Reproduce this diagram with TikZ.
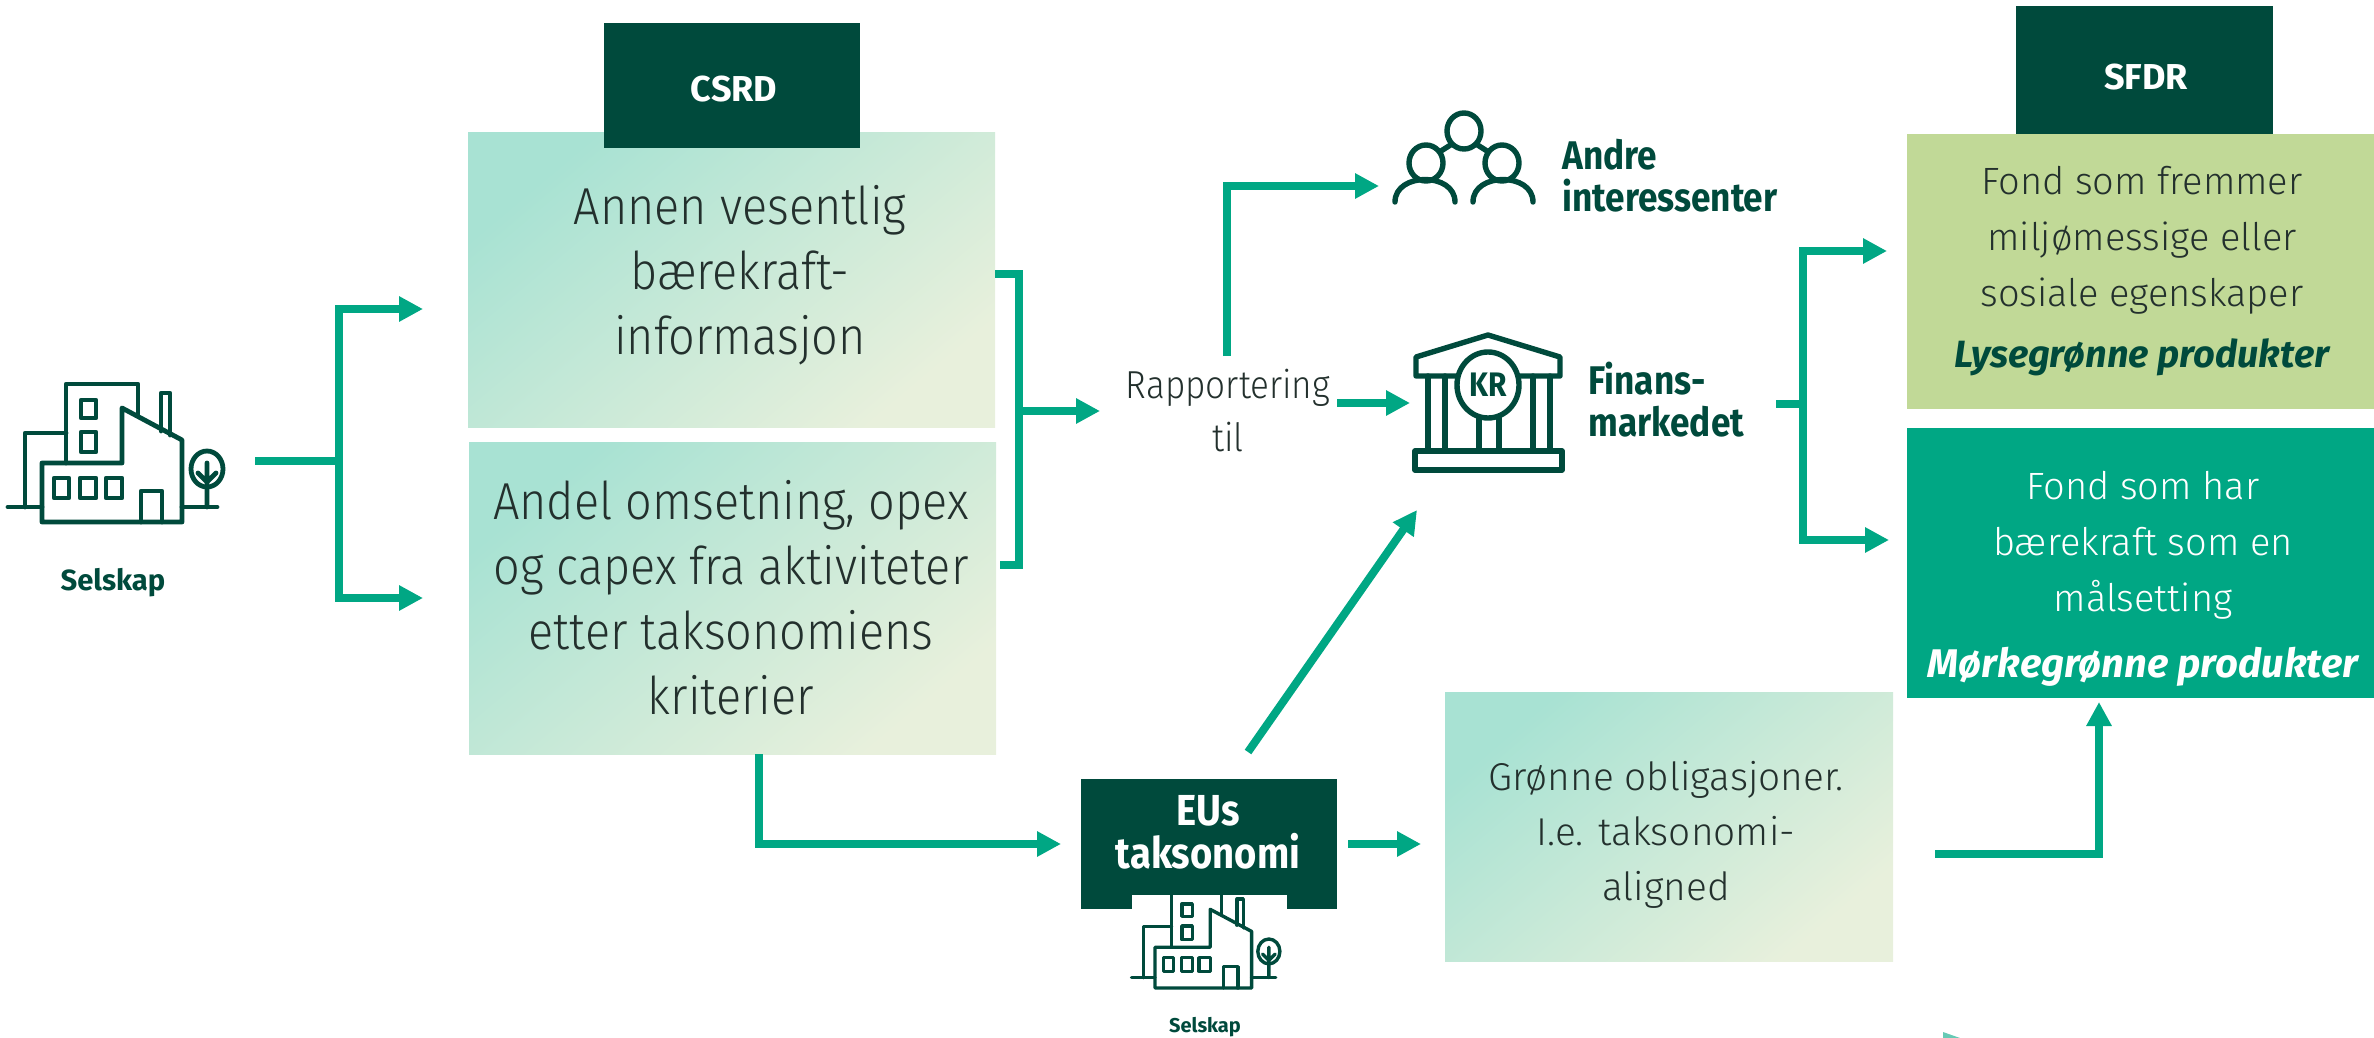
\documentclass[tikz,border=0pt]{standalone}
\usepackage{fontspec}
\setmainfont{Fira Sans}
\newfontfamily\tynn{Fira Sans Light}
\newfontfamily\smaltynn[FakeStretch=0.9]{Fira Sans Light}
\newfontfamily\smal[FakeStretch=0.88]{Fira Sans}
\usetikzlibrary{arrows.meta,calc,shapes.geometric}
\definecolor{mork}{HTML}{004A3C}
\definecolor{midt}{HTML}{00A784}
\definecolor{lys}{HTML}{C1D997}
\definecolor{tekst}{HTML}{23302D}
\definecolor{gradA}{HTML}{A8E2D3}
\definecolor{gradB}{HTML}{E8F0DC}
\tikzset{
>={Triangle[length=12pt,width=12pt]},
pil/.style={->,draw=midt,line width=4pt},
strek/.style={draw=midt,line width=4pt},
fargeboks/.style={inner sep=0pt,outer sep=0pt,left color=gradA,right color=gradB,shading angle=40},
hode/.style={fill=mork,inner sep=0pt,outer sep=0pt,text=white,font=\fontsize{18}{22}\selectfont\bfseries},
brodtekst/.style={align=center,text=tekst,inner sep=0pt,font=\fontsize{26}{32.5}\selectfont\smaltynn},
fondtekst/.style={align=center,inner sep=0pt,font=\fontsize{19}{28}\selectfont\tynn},
merke/.style={align=left,inner sep=0pt,text=mork,font=\fontsize{20}{21}\selectfont\smal\bfseries},
ikon/.style={draw=mork,line width=2.4pt,line join=round,line cap=round},
pics/selskap/.style={code={
\draw (-34,-15) -- (0,-15) (140,-15) -- (175,-15);
\draw (0,0) -- (0,-59) -- (80,-59) -- (80,-114) -- (140,-82) -- (140,0) -- cycle;
\draw (24,-59) -- (24,-138) -- (96,-138) -- (96,-107);
\draw (-17,-15) -- (-17,-89) -- (24,-89);
\draw (119,-91) -- (119,-129) -- (128,-129) -- (128,-87);
\draw (39,-122) rectangle (54,-104) (39,-90) rectangle (54,-70);
\draw (12,-44) rectangle (27,-24) (38,-44) rectangle (54,-24) (64,-44) rectangle (80,-24);
\draw (99,0) -- (99,-31) -- (120,-31) -- (120,0);
\draw (165,-53) ellipse [x radius=8pt,y radius=9pt];
\draw (165,-59) -- (165,-15) (156,-49) -- (165,-40) -- (174,-49);
}}}

\begin{document}
\begin{tikzpicture}[x=0.5pt,y=-0.5pt]
\useasboundingbox (0,0) rectangle (2374,1038);

\node (sfdr) [hode,minimum width=128.5pt,minimum height=64pt] at (2144.5,70) {};
\node (sfdrt) [hode] at (2146,77) {SFDR};

\node (boks1) [fargeboks,minimum width=263.5pt,minimum height=147pt] at (731.5,280) {};
\node (boks2) [fargeboks,minimum width=263.5pt,minimum height=156pt] at (732.5,598) {};
\node (boks3) [fargeboks,minimum width=224pt,minimum height=134.5pt] at (1669,826.5) {};
\node (boks4) [fill=lys,inner sep=0pt,outer sep=0pt,minimum width=233.5pt,minimum height=137.5pt] at (2140.5,271.5) {};
\node (boks5) [fill=midt,inner sep=0pt,outer sep=0pt,minimum width=233.5pt,minimum height=135pt] at (2140.5,563) {};
\node (csrd) [hode,minimum width=128pt,minimum height=62.5pt] at (732,86) {};
\node (csrdt) [hode] at (734,89) {CSRD};
\node (eu) [hode,minimum width=128pt,minimum height=65pt] at (1209,844) {};
\node (eutom) [fill=white,inner sep=0pt,minimum width=77.5pt,minimum height=20pt] at (1209.5,915) {};

\node (boks1t) [brodtekst] at (740,275) {Annen vesentlig\\bærekraft-\\informasjon};
\node (boks2t) [brodtekst] at (731,598) {Andel omsetning, opex\\og capex fra aktiviteter\\etter taksonomiens\\kriterier};
\node (boks3t) [fondtekst,text=tekst,font=\fontsize{19.4}{27.5}\selectfont\tynn] at (1666,835) {Grønne obligasjoner.\\I.e. taksonomi-\\aligned};
\node (boks4t) [fondtekst,text=tekst] at (2142,240) {Fond som fremmer\\miljømessige eller\\sosiale egenskaper};
\node (boks4b) [inner sep=0pt,text=mork,font=\fontsize{19}{22}\selectfont\bfseries\itshape] at (2142,357) {Lysegrønne produkter};
\node (boks5t) [fondtekst,text=white] at (2143,545) {Fond som har\\bærekraft som en\\målsetting};
\node (boks5b) [inner sep=0pt,text=white,font=\fontsize{20}{22}\selectfont\bfseries\itshape] at (2143,667) {Mørkegrønne produkter};
\node (eut) [align=center,inner sep=0pt,text=white,font=\fontsize{21.7}{21.5}\selectfont\smal\bfseries] at (1208,832) {EUs\\taksonomi};
\node (rapp) [brodtekst,font=\fontsize{19.5}{26.5}\selectfont\smaltynn] at (1228,411) {Rapportering\\til};
\node (andre) [merke,anchor=west] at (1562,176) {Andre\\interessenter};
\node (finans) [merke,anchor=west] at (1588,400) {Finans-\\markedet};
\node (sel1) [inner sep=0pt,text=mork,font=\fontsize{14.6}{16}\selectfont\bfseries] at (113,583) {Selskap};
\node (sel2) [inner sep=0pt,text=mork,font=\fontsize{10}{12}\selectfont\bfseries] at (1205,1027) {Selskap};

\pic (ikon1) [ikon] at (42,522) {selskap};
\pic (ikon2) [ikon,line width=1.7pt,scale=.69] at (1155,988) {selskap};

\begin{scope}[ikon,line width=2.7pt]
\draw (1464,131) ellipse [x radius=8.5pt,y radius=9pt];
\draw (1426,163) ellipse [x radius=8.5pt,y radius=9pt];
\draw (1502,163) ellipse [x radius=8.5pt,y radius=9pt];
\draw (1395,202) .. controls (1395,172) and (1455,172) .. (1455,202);
\draw (1473,202) .. controls (1473,172) and (1533,172) .. (1533,202);
\draw (1441,151) -- (1452,144) (1476,144) -- (1487,151);
\draw (1416,376) -- (1416,357) -- (1488,335) -- (1560,357) -- (1560,376) -- cycle;
\draw (1428,376) -- (1428,450) (1445,376) -- (1445,450);
\draw (1533,376) -- (1533,450) (1550,376) -- (1550,450);
\draw (1479,416) -- (1479,450) (1499,416) -- (1499,450);
\draw (1415,451) rectangle (1562,470);
\end{scope}
\node (kr) [ellipse,draw=mork,line width=2.7pt,fill=white,inner sep=0pt,minimum width=31pt,minimum height=33pt,text=mork,font=\fontsize{17}{18}\selectfont\smal\bfseries] at (1488,385) {KR};

\coordinate (sel) at (255,461);
\coordinate (gren) at (339,461);
\coordinate (inn1) at (423,309);
\coordinate (inn2) at (423,598);
\coordinate (ut1) at (995,274);
\coordinate (ut2) at (1000,565);
\coordinate (hjorne) at (1019,411);
\coordinate (rappinn) at (1100,411);
\coordinate (opp) at (1227,356);
\coordinate (andrepil) at (1379,186);
\coordinate (rapput) at (1337,403);
\coordinate (bank) at (1410,403);
\coordinate (fin) at (1776,404);
\coordinate (delt) at (1803,404);
\coordinate (lyspil) at (1887,251);
\coordinate (morkpil) at (1889,540);
\coordinate (ned) at (759,754);
\coordinate (eupil) at (1061,844);
\coordinate (euut) at (1348,844);
\coordinate (grpil) at (1421,844);
\coordinate (skra) at (1248,752);
\coordinate (skrapil) at (1417,510);
\coordinate (gr) at (1935,854);
\coordinate (grtopp) at (2099,702);

\draw[strek] (sel) -- (gren);
\draw[pil] (gren) |- (inn1);
\draw[pil] (gren) |- (inn2);
\draw[strek] (ut1) -| (hjorne) |- (ut2);
\draw[pil] (hjorne) -- (rappinn);
\draw[pil] (opp) |- (andrepil);
\draw[pil] (rapput) -- (bank);
\draw[strek] (fin) -- (delt);
\draw[pil] (delt) |- (lyspil);
\draw[pil] (delt) |- (morkpil);
\draw[pil] (ned) |- (eupil);
\draw[pil] (euut) -- (grpil);
\draw[pil] (skra) -- (skrapil);
\draw[pil] (gr) -| (grtopp);

\fill[midt!60] (1943,1032) -- (1960,1038) -- (1943,1038) -- cycle;

\end{tikzpicture}
\end{document}
